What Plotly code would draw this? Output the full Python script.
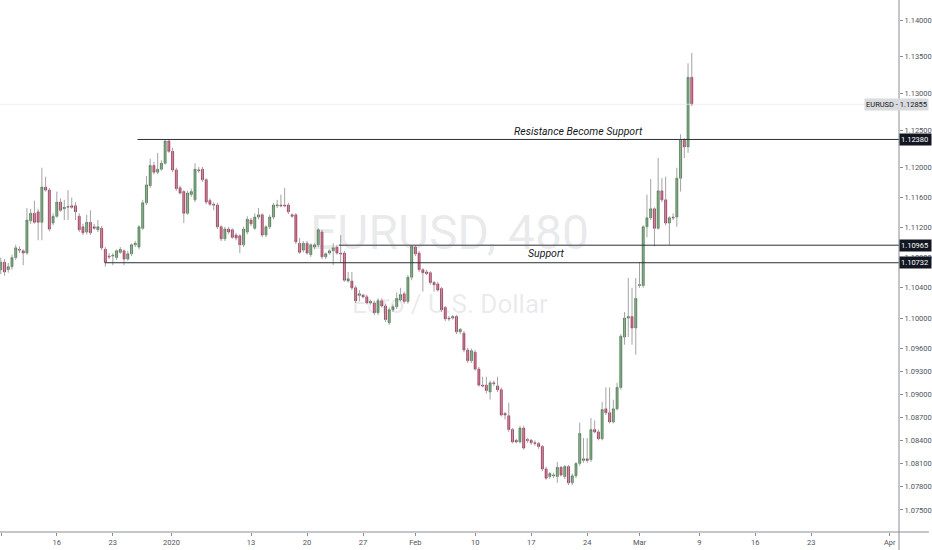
import math
import plotly.graph_objects as go

# ---------------- data (EURUSD, 8h bars, 9 Dec 2019 -> 6 Mar 2020) ----------------
opens = [1.1064, 1.1074, 1.1064, 1.1068, 1.1080, 1.1091, 1.1089, 1.1086, 1.1129, 1.1139,
         1.1141, 1.1127, 1.1174, 1.1170, 1.1126, 1.1135, 1.1154, 1.1145, 1.1147, 1.1149,
         1.1149, 1.1135, 1.1121, 1.1114, 1.1127, 1.1121, 1.1117, 1.1119, 1.1091, 1.1082,
         1.1082, 1.1080, 1.1087, 1.1089, 1.1078, 1.1085, 1.1097, 1.1094, 1.1119, 1.1153,
         1.1176, 1.1203, 1.1194, 1.1198, 1.1206, 1.1236, 1.1222, 1.1197, 1.1173, 1.1168,
         1.1139, 1.1164, 1.1157, 1.1196, 1.1198, 1.1184, 1.1156, 1.1151, 1.1150, 1.1121,
         1.1105, 1.1118, 1.1117, 1.1110, 1.1109, 1.1097, 1.1114, 1.1130, 1.1119, 1.1134,
         1.1137, 1.1110, 1.1121, 1.1134, 1.1149, 1.1150, 1.1150, 1.1150, 1.1137, 1.1137,
         1.1099, 1.1090, 1.1099, 1.1084, 1.1094, 1.1097, 1.1114, 1.1081, 1.1086, 1.1089,
         1.1094, 1.1086, 1.1086, 1.1049, 1.1049, 1.1040, 1.1030, 1.1030, 1.1028, 1.1020,
         1.1020, 1.1007, 1.1023, 1.1016, 1.0994, 1.1011, 1.1015, 1.1024, 1.1032, 1.1022,
         1.1054, 1.1094, 1.1086, 1.1064, 1.1061, 1.1060, 1.1047, 1.1045, 1.1039, 1.1014,
         1.1000, 1.1000, 1.1002, 1.0982, 1.0980, 1.0958, 1.0944, 1.0955, 1.0933, 1.0912,
         1.0912, 1.0903, 1.0915, 1.0911, 1.0906, 1.0875, 1.0872, 1.0854, 1.0840, 1.0838,
         1.0856, 1.0841, 1.0840, 1.0837, 1.0836, 1.0832, 1.0803, 1.0793, 1.0794, 1.0793,
         1.0805, 1.0793, 1.0806, 1.0785, 1.0794, 1.0810, 1.0814, 1.0816, 1.0815, 1.0854,
         1.0851, 1.0842, 1.0881, 1.0876, 1.0864, 1.0881, 1.0909, 1.0975, 1.1000, 1.1002,
         1.0987, 1.1043, 1.1043, 1.1121, 1.1133, 1.1145, 1.1119, 1.1169, 1.1157, 1.1126,
         1.1134, 1.1134, 1.1186, 1.1237, 1.1228, 1.1322]

highs = [1.1080, 1.1078, 1.1073, 1.1084, 1.1097, 1.1095, 1.1091, 1.1146, 1.1145, 1.1156,
         1.1145, 1.1200, 1.1188, 1.1173, 1.1139, 1.1168, 1.1159, 1.1157, 1.1170, 1.1160,
         1.1154, 1.1139, 1.1125, 1.1137, 1.1143, 1.1125, 1.1130, 1.1122, 1.1094, 1.1086,
         1.1086, 1.1091, 1.1094, 1.1091, 1.1089, 1.1099, 1.1102, 1.1123, 1.1157, 1.1189,
         1.1212, 1.1208, 1.1220, 1.1210, 1.1238, 1.1238, 1.1227, 1.1200, 1.1176, 1.1170,
         1.1169, 1.1172, 1.1206, 1.1201, 1.1201, 1.1186, 1.1159, 1.1154, 1.1153, 1.1123,
         1.1121, 1.1121, 1.1119, 1.1113, 1.1111, 1.1121, 1.1135, 1.1133, 1.1139, 1.1146,
         1.1139, 1.1123, 1.1137, 1.1153, 1.1157, 1.1164, 1.1173, 1.1153, 1.1139, 1.1139,
         1.1106, 1.1102, 1.1102, 1.1099, 1.1099, 1.1119, 1.1117, 1.1087, 1.1091, 1.1099,
         1.1097, 1.1110, 1.1089, 1.1061, 1.1061, 1.1043, 1.1037, 1.1032, 1.1031, 1.1024,
         1.1023, 1.1026, 1.1026, 1.1019, 1.1014, 1.1018, 1.1034, 1.1040, 1.1035, 1.1057,
         1.10965, 1.1096, 1.1089, 1.1066, 1.1064, 1.1062, 1.1049, 1.1048, 1.1041, 1.1016,
         1.1003, 1.1004, 1.1004, 1.0987, 1.0983, 1.0961, 1.0960, 1.0958, 1.0936, 1.0923,
         1.0923, 1.0918, 1.0918, 1.0923, 1.0909, 1.0877, 1.0889, 1.0856, 1.0842, 1.0859,
         1.0859, 1.0843, 1.0842, 1.0840, 1.0838, 1.0834, 1.0806, 1.0799, 1.0798, 1.0812,
         1.0807, 1.0808, 1.0808, 1.0797, 1.0812, 1.0863, 1.0843, 1.0843, 1.0869, 1.0866,
         1.0854, 1.0890, 1.0909, 1.0909, 1.0893, 1.0915, 1.0979, 1.1008, 1.1053, 1.1040,
         1.1053, 1.1074, 1.1123, 1.1164, 1.1185, 1.1147, 1.1213, 1.1186, 1.1188, 1.1135,
         1.1139, 1.1200, 1.1245, 1.1240, 1.1341, 1.1355]

lows = [1.1058, 1.1056, 1.1060, 1.1064, 1.1077, 1.1086, 1.1070, 1.1084, 1.1125, 1.1125,
        1.1103, 1.1103, 1.1168, 1.1115, 1.1123, 1.1133, 1.1141, 1.1130, 1.1130, 1.1145,
        1.1130, 1.1114, 1.1110, 1.1111, 1.1110, 1.1117, 1.1114, 1.1090, 1.1068, 1.1078,
        1.1070, 1.1077, 1.1085, 1.1070, 1.1076, 1.1082, 1.1094, 1.1091, 1.1117, 1.1150,
        1.1173, 1.1191, 1.1191, 1.1196, 1.1204, 1.1220, 1.1194, 1.1169, 1.1164, 1.1126,
        1.1137, 1.1161, 1.1154, 1.1193, 1.1181, 1.1151, 1.1149, 1.1143, 1.1118, 1.1102,
        1.1102, 1.1111, 1.1105, 1.1103, 1.1086, 1.1094, 1.1111, 1.1122, 1.1117, 1.1131,
        1.1107, 1.1107, 1.1118, 1.1131, 1.1146, 1.1147, 1.1147, 1.1138, 1.1133, 1.1098,
        1.1085, 1.1087, 1.1084, 1.1081, 1.1091, 1.1094, 1.1078, 1.1078, 1.1084, 1.1070,
        1.1084, 1.1073, 1.1048, 1.1047, 1.1037, 1.1020, 1.1022, 1.1026, 1.1018, 1.1018,
        1.1004, 1.1004, 1.1014, 1.0995, 1.0991, 1.1008, 1.1012, 1.1022, 1.1019, 1.1019,
        1.1050, 1.1082, 1.1061, 1.1035, 1.1057, 1.1044, 1.1035, 1.1035, 1.1008, 1.0996,
        1.0996, 1.0998, 1.0979, 1.0979, 1.0955, 1.0941, 1.0941, 1.0931, 1.0910, 1.0909,
        1.0901, 1.0893, 1.0911, 1.0903, 1.0871, 1.0867, 1.0851, 1.0836, 1.0836, 1.0836,
        1.0828, 1.0837, 1.0834, 1.0833, 1.0829, 1.0800, 1.0789, 1.0790, 1.0791, 1.0785,
        1.0793, 1.0790, 1.0782, 1.0782, 1.0791, 1.0807, 1.0811, 1.0811, 1.0812, 1.0849,
        1.0840, 1.0840, 1.0873, 1.0862, 1.0862, 1.0879, 1.0906, 1.0965, 1.0975, 1.0965,
        1.0952, 1.1040, 1.1040, 1.1107, 1.1130, 1.1095, 1.1117, 1.1154, 1.1123, 1.1097,
        1.1130, 1.1121, 1.1168, 1.1213, 1.1220, 1.1283]

closes = [1.1074, 1.1061, 1.1068, 1.1080, 1.1093, 1.1090, 1.1086, 1.1130, 1.1139, 1.1127,
          1.1127, 1.1174, 1.1170, 1.1118, 1.1135, 1.1154, 1.1143, 1.1147, 1.1148, 1.1147,
          1.1141, 1.1117, 1.1113, 1.1127, 1.1113, 1.1119, 1.1121, 1.1093, 1.1074, 1.1081,
          1.1083, 1.1089, 1.1091, 1.1078, 1.1085, 1.1097, 1.1099, 1.1121, 1.1153, 1.1177,
          1.1203, 1.1194, 1.1198, 1.1206, 1.1236, 1.1222, 1.1197, 1.1172, 1.1166, 1.1139,
          1.1166, 1.1168, 1.1198, 1.1197, 1.1184, 1.1154, 1.1151, 1.1150, 1.1121, 1.1105,
          1.1118, 1.1114, 1.1107, 1.1106, 1.1097, 1.1118, 1.1131, 1.1125, 1.1134, 1.1137,
          1.1110, 1.1121, 1.1134, 1.1150, 1.1150, 1.1149, 1.1149, 1.1141, 1.1135, 1.1101,
          1.1087, 1.1099, 1.1086, 1.1097, 1.1097, 1.1117, 1.1081, 1.1085, 1.1089, 1.1093,
          1.1086, 1.1085, 1.1050, 1.1052, 1.1040, 1.1023, 1.1032, 1.1028, 1.1020, 1.1022,
          1.1007, 1.1023, 1.1016, 1.0998, 1.1011, 1.1015, 1.1026, 1.1031, 1.1022, 1.1054,
          1.1095, 1.1085, 1.1064, 1.1060, 1.1059, 1.1047, 1.1044, 1.1037, 1.1011, 1.0999,
          1.0999, 1.1002, 1.0982, 1.0985, 1.0958, 1.0944, 1.0957, 1.0933, 1.0912, 1.0911,
          1.0905, 1.0915, 1.0914, 1.0906, 1.0873, 1.0873, 1.0854, 1.0838, 1.0838, 1.0856,
          1.0830, 1.0840, 1.0837, 1.0836, 1.0832, 1.0803, 1.0791, 1.0797, 1.0795, 1.0805,
          1.0795, 1.0806, 1.0785, 1.0794, 1.0810, 1.0849, 1.0816, 1.0814, 1.0854, 1.0851,
          1.0842, 1.0880, 1.0876, 1.0864, 1.0881, 1.0909, 1.0976, 1.1000, 1.1002, 1.0987,
          1.1026, 1.1044, 1.1121, 1.1133, 1.1145, 1.1119, 1.1169, 1.1157, 1.1126, 1.1133,
          1.1133, 1.1186, 1.1237, 1.1228, 1.1322, 1.12855]

# time axis ticks (bar index of the first bar of each labelled day)
tick_bars = [0.3, 15, 30, 45.7, 67, 82, 97, 111, 127, 142, 157, 171, 187, 202, 217, 238]
tick_labels = ["9", "16", "23", "2020", "13", "20", "27", "Feb", "10", "17", "24",
               "Mar", "9", "16", "23", "Apr"]

# price axis ticks
price_ticks = [1.075, 1.078, 1.081, 1.084, 1.087, 1.090, 1.093, 1.096, 1.100, 1.104,
               1.108, 1.112, 1.116, 1.120, 1.125, 1.130, 1.135, 1.140]

# drawn horizontal levels: value, first bar
levels = [1.12380, 1.10965, 1.10732]
level_start = [36.6, 90.5, 27.8]

symbol = "EURUSD"
interval = "480"
description = "Euro / U.S. Dollar"

# ---------------- figure ----------------
X_RANGE = [-0.21, 240.48]
Y_RANGE = [1.07216, 1.14274]
UP_FILL, UP_LINE = "#3e9e46", "#27552c"
DN_FILL, DN_LINE = "#e8205f", "#7a1232"
AXIS = "#8a8d96"
TXT = "#50535e"
FONT = "Roboto, Liberation Sans, Arial, sans-serif"

x = list(range(len(opens)))
fig = go.Figure()

# last-price guide line
fig.add_trace(go.Scatter(x=X_RANGE, y=[closes[-1], closes[-1]], mode="lines",
                         line=dict(color="#efefef", width=1), hoverinfo="skip",
                         showlegend=False))

# wicks
wx, wy = [], []
for i, (h, l) in enumerate(zip(highs, lows)):
    wx += [i, i, None]
    wy += [l, h, None]
fig.add_trace(go.Scatter(x=wx, y=wy, mode="lines", line=dict(color="#a3a3a3", width=1),
                         hoverinfo="skip", showlegend=False))

# bodies
body_hi = [max(o, c) for o, c in zip(opens, closes)]
body_lo = [min(o, c) for o, c in zip(opens, closes)]
fig.add_trace(go.Candlestick(
    x=x, open=opens, high=body_hi, low=body_lo, close=closes,
    increasing=dict(fillcolor=UP_FILL, line=dict(color=UP_LINE, width=0.5)),
    decreasing=dict(fillcolor=DN_FILL, line=dict(color=DN_LINE, width=0.5)),
    whiskerwidth=0, hoverinfo="skip", showlegend=False))

# horizontal levels
for lv, st in zip(levels, level_start):
    fig.add_trace(go.Scatter(x=[st, X_RANGE[1]], y=[lv, lv], mode="lines",
                             line=dict(color="#2a2e39", width=1), hoverinfo="skip",
                             showlegend=False))

annotations = []
# watermark
annotations.append(dict(text=f"{symbol}, {interval}", xref="paper", yref="paper",
                        x=0.5, y=1 - 232 / 532, xanchor="center", yanchor="middle",
                        showarrow=False,
                        font=dict(family=FONT, size=48, color="rgba(120,123,134,0.16)")))
annotations.append(dict(text=description, xref="paper", yref="paper",
                        x=0.5, y=1 - 304 / 532, xanchor="center", yanchor="middle",
                        showarrow=False,
                        font=dict(family=FONT, size=26, color="rgba(120,123,134,0.16)")))
# level texts
annotations.append(dict(text="<i>Resistance Become Support</i>", x=154.8,
                        y=math.log10(levels[0]), xanchor="center", yanchor="bottom",
                        yshift=-1, showarrow=False,
                        font=dict(family=FONT, size=10.5, color="#131722")))
annotations.append(dict(text="<i>Support</i>", x=146,
                        y=(math.log10(levels[1]) + math.log10(levels[2])) / 2,
                        xanchor="center", yanchor="middle", showarrow=False,
                        font=dict(family=FONT, size=10.5, color="#131722")))
# price scale labels for levels
for lv in levels:
    annotations.append(dict(text=f"{lv:.5f}", xref="paper", x=1, xanchor="left",
                            y=math.log10(lv), yanchor="middle", showarrow=False,
                            bgcolor="#131722", borderpad=1, width=29, align="left",
                            font=dict(family=FONT, size=7.5, color="#ffffff")))
annotations.append(dict(text=f"{symbol} - {closes[-1]:.5f}", xref="paper",
                        x=932 / 902, xanchor="right", y=math.log10(closes[-1]),
                        yanchor="middle", showarrow=False, bgcolor="#d9dadd",
                        borderpad=1, font=dict(family=FONT, size=7.5, color="#131722")))

fig.update_layout(
    width=932, height=550,
    margin=dict(l=0, r=30, t=0, b=18),
    paper_bgcolor="#ffffff", plot_bgcolor="#ffffff",
    showlegend=False, boxgap=0.2,
    annotations=annotations,
    shapes=[
        dict(type="line", xref="paper", yref="paper", x0=0, x1=932 / 902, y0=0, y1=0,
             line=dict(color=AXIS, width=1)),
        dict(type="line", xref="paper", yref="paper", x0=1, x1=1, y0=-18 / 532, y1=1,
             line=dict(color=AXIS, width=1)),
    ],
    xaxis=dict(range=X_RANGE, tickvals=tick_bars, ticktext=tick_labels,
               showgrid=False, zeroline=False, showline=False,
               ticks="outside", ticklen=3, tickcolor=AXIS,
               tickfont=dict(family=FONT, size=7.5, color=TXT),
               rangeslider=dict(visible=False), fixedrange=True),
    yaxis=dict(type="log", side="right",
               range=[math.log10(Y_RANGE[0]), math.log10(Y_RANGE[1])],
               tickvals=price_ticks, ticktext=[f"{v:.5f}" for v in price_ticks],
               showgrid=False, zeroline=False, showline=False,
               ticks="outside", ticklen=3, tickcolor=AXIS,
               tickfont=dict(family=FONT, size=7.5, color=TXT), fixedrange=True),
)

fig.write_html("out.html",
               config={"displayModeBar": False, "staticPlot": True},
               post_script="document.body.style.margin='0';"
                           "document.body.style.padding='0';"
                           "document.body.style.overflow='hidden';")
